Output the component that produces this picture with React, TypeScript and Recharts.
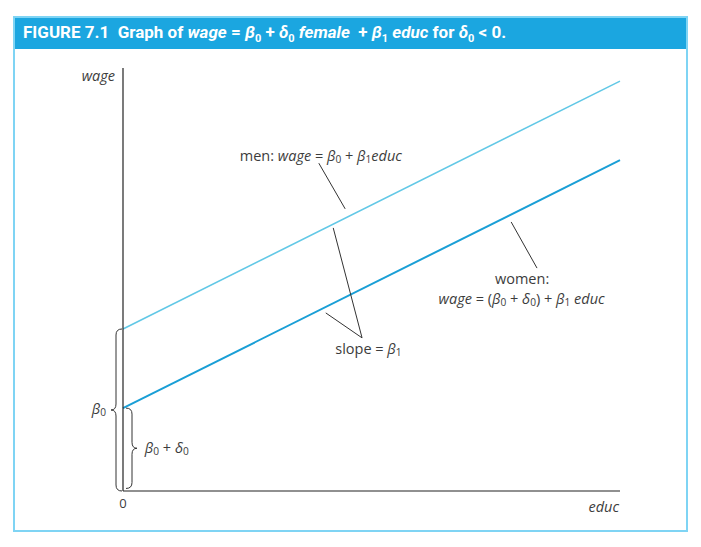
import React from 'react'
import { LineChart, Line, XAxis, YAxis, ReferenceLine, ReferenceDot } from 'recharts'

// two points per line are enough, the lines are straight
const educ = [0, 10]
const menWage = [3.83, 9.69]
const womenWage = [1.96, 7.82]
const xTicks = [0]

const data = educ.map((x, i) => ({ educ: x, men: menWage[i], women: womenWage[i] }))

const TEXT = '#3c3c3c'
const FONT = '"Open Sans", "Noto Sans", sans-serif'

type Seg = { t: string; i?: boolean; s?: boolean }

const MathText = ({ x, y, segs, anchor = 'start', size = 14.5, dx = 0 }: any) => {
  let cur = 0
  const parts = segs.map((seg: Seg, k: number) => {
    const target = seg.s ? size * 0.3 : 0
    const dy = target - cur
    cur = target
    return (
      <tspan key={k} dy={dy} fontStyle={seg.i ? 'italic' : 'normal'} fontSize={seg.s ? size * 0.7 : size}>
        {seg.t}
      </tspan>
    )
  })
  return (
    <text
      x={x + dx}
      y={y}
      textAnchor={anchor}
      dominantBaseline="central"
      fill={TEXT}
      fontFamily={FONT}
      fontSize={size}
      style={{ whiteSpace: 'pre' }}
    >
      {parts}
    </text>
  )
}

// curly brace along a vertical segment, dir -1 opens to the left, +1 to the right
const Brace = (dir: number, gap: number, r: number, tip: number) => (p: any) => {
  const xe = p.x1 + dir * gap
  const xs = xe + dir * r
  const xt = xs + dir * tip
  const yTop = Math.min(p.y1, p.y2)
  const yBot = Math.max(p.y1, p.y2)
  const ym = (yTop + yBot) / 2
  const d = `M${xe},${yTop} Q${xs},${yTop} ${xs},${yTop + r} L${xs},${ym - r} Q${xs},${ym} ${xt},${ym} Q${xs},${ym} ${xs},${ym + r} L${xs},${yBot - r} Q${xs},${yBot} ${xe},${yBot}`
  return <path d={d} fill="none" stroke="#333" strokeWidth={1} />
}

const menLabel: Seg[] = [
  { t: 'men: ' }, { t: 'wage', i: true }, { t: ' = ' }, { t: 'β', i: true }, { t: '0', s: true },
  { t: ' + ' }, { t: 'β', i: true }, { t: '1', s: true }, { t: 'educ', i: true },
]
const slopeLabel: Seg[] = [{ t: 'slope = ' }, { t: 'β', i: true }, { t: '1', s: true }]
const womenLabel1: Seg[] = [{ t: 'women:' }]
const womenLabel2: Seg[] = [
  { t: 'wage', i: true }, { t: ' = (' }, { t: 'β', i: true }, { t: '0', s: true }, { t: ' + ' },
  { t: 'δ', i: true }, { t: '0', s: true }, { t: ') + ' }, { t: 'β', i: true }, { t: '1', s: true },
  { t: ' ' }, { t: 'educ', i: true },
]
const b0Label: Seg[] = [{ t: 'β', i: true }, { t: '0', s: true }]
const b0d0Label: Seg[] = [
  { t: 'β', i: true }, { t: '0', s: true }, { t: ' + ' }, { t: 'δ', i: true }, { t: '0', s: true },
]

const label = (segs: Seg[], anchor = 'start', dx = 0, size = 14.5) => (p: any) => (
  <MathText x={p.cx} y={p.cy} segs={segs} anchor={anchor} dx={dx} size={size} />
)

export default function App() {
  return (
    <div style={{ position: 'relative', width: 685, height: 531 }}>
      <div
        style={{
          position: 'absolute', left: 5, top: 8, width: 675, height: 516,
          border: '2px solid #7fd4f4', boxSizing: 'border-box',
        }}
      >
        <div
          style={{
            height: 31, background: '#1ba6e0', color: '#fff', display: 'flex', alignItems: 'center',
            paddingLeft: 8, fontFamily: '"Liberation Sans Narrow", "Roboto", sans-serif',
            fontWeight: 'bold', fontSize: 17, whiteSpace: 'pre',
          }}
        >
          <span>FIGURE 7.1  Graph of <i>wage</i> = <i>β</i><sub style={{ fontSize: 11 }}>0</sub> + <i>δ</i>
            <sub style={{ fontSize: 11 }}>0</sub> <i>female</i>  + <i>β</i><sub style={{ fontSize: 11 }}>1</sub> <i>educ</i> for <i>δ</i>
            <sub style={{ fontSize: 11 }}>0</sub> {'<'} 0.</span>
        </div>
      </div>
      <div style={{ position: 'absolute', left: 0, top: 0 }}>
        <LineChart width={685} height={531} data={data} margin={{ top: 60, right: 73, bottom: 18, left: 55 }}>
          <XAxis
            dataKey="educ"
            type="number"
            domain={[0, 10]}
            ticks={xTicks}
            tickLine={false}
            height={30}
            axisLine={{ stroke: '#222', strokeWidth: 1.2 }}
            tick={{ fill: TEXT, fontSize: 13, fontFamily: FONT }}
          />
          <YAxis
            type="number"
            domain={[0, 10]}
            width={60}
            tick={false}
            tickLine={false}
            axisLine={{ stroke: '#222', strokeWidth: 1.2 }}
          />
          <Line dataKey="men" type="linear" stroke="#62c8e6" strokeWidth={1.6} dot={false} isAnimationActive={false} />
          <Line dataKey="women" type="linear" stroke="#1a9fd6" strokeWidth={2} dot={false} isAnimationActive={false} />

          <ReferenceLine segment={[{ x: 3.94, y: 7.75 }, { x: 4.47, y: 6.67 }]} stroke="#333" strokeWidth={1} />
          <ReferenceLine segment={[{ x: 4.81, y: 3.62 }, { x: 4.23, y: 6.22 }]} stroke="#333" strokeWidth={1} />
          <ReferenceLine segment={[{ x: 4.81, y: 3.62 }, { x: 4.08, y: 4.21 }]} stroke="#333" strokeWidth={1} />
          <ReferenceLine segment={[{ x: 7.81, y: 6.36 }, { x: 8.33, y: 5.27 }]} stroke="#333" strokeWidth={1} />

          <ReferenceLine
            segment={[{ x: 0, y: menWage[0] }, { x: 0, y: 0 }]}
            ifOverflow="visible"
            shape={Brace(-1, 1, 6, 5)}
          />
          <ReferenceLine
            segment={[{ x: 0, y: womenWage[0] }, { x: 0, y: 0.06 }]}
            ifOverflow="visible"
            shape={Brace(1, 3, 6, 5)}
          />

          <ReferenceDot x={2.35} y={7.94} r={0} ifOverflow="visible" shape={label(menLabel)} />
          <ReferenceDot x={4.27} y={3.38} r={0} ifOverflow="visible" shape={label(slopeLabel)} />
          <ReferenceDot x={8.03} y={5.04} r={0} ifOverflow="visible" shape={label(womenLabel1, 'middle')} />
          <ReferenceDot x={8.02} y={4.57} r={0} ifOverflow="visible" shape={label(womenLabel2, 'middle')} />
          <ReferenceDot x={0} y={womenWage[0]} r={0} ifOverflow="visible" shape={label(b0Label, 'end', -17)} />
          <ReferenceDot x={0.44} y={1.04} r={0} ifOverflow="visible" shape={label(b0d0Label)} />
          <ReferenceDot x={0} y={9.83} r={0} ifOverflow="visible" shape={label([{ t: 'wage', i: true }], 'end', -8)} />
          <ReferenceDot x={10} y={-0.35} r={0} ifOverflow="visible" shape={label([{ t: 'educ', i: true }], 'end', -1)} />
        </LineChart>
      </div>
    </div>
  )
}
